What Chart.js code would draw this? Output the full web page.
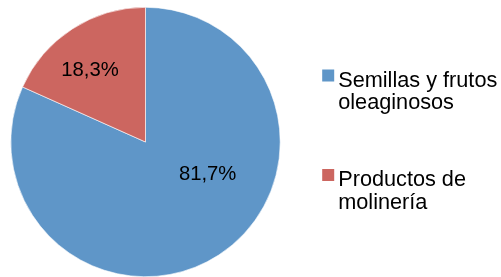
<!DOCTYPE html>
<html>
<head>
<meta charset="utf-8">
<script src="https://cdn.jsdelivr.net/npm/chart.js@4.4.0/dist/chart.umd.min.js"></script>
<style>
  html, body { margin: 0; padding: 0; background: #fff; }
  #wrap { width: 501px; height: 277px; position: relative; }
</style>
</head>
<body>
<div id="wrap"><canvas id="pieChart" width="501" height="277"></canvas></div>
<script>
const categories = [["Semillas y frutos", "oleaginosos"], ["Productos de", "molinería"]];
const shares = [81.7, 18.3];
const valueLabels = ["81,7%", "18,3%"];
const sliceColors = ["#5f96c8", "#cc6660"];

// where each % label sits: angle in degrees (0 = east, clockwise) and fraction of radius
const labelSpots = [
  { angle: 27.5, frac: 0.52 },
  { angle: -128, frac: 0.67 },
];

const FONT = "'Liberation Sans', Arial, sans-serif";

const pieLabels = {
  id: "pieLabels",
  afterDatasetsDraw(chart) {
    const ctx = chart.ctx;
    const arcs = chart.getDatasetMeta(0).data;
    ctx.save();
    ctx.font = "20.3px " + FONT;
    ctx.fillStyle = "#000";
    ctx.textAlign = "center";
    ctx.textBaseline = "middle";
    arcs.forEach((arc, i) => {
      const a = (labelSpots[i].angle * Math.PI) / 180;
      const r = arc.outerRadius * labelSpots[i].frac;
      ctx.fillText(valueLabels[i], arc.x + Math.cos(a) * r, arc.y + Math.sin(a) * r);
    });
    ctx.restore();
  },
};

const sideLegend = {
  id: "sideLegend",
  afterDraw(chart) {
    const ctx = chart.ctx;
    const arc = chart.getDatasetMeta(0).data[0];
    const boxX = arc.x + arc.outerRadius + 42;
    const textX = boxX + 16;
    const startY = 86.5;
    const itemGap = 99.5;
    const lineH = 22.5;
    ctx.save();
    ctx.font = "21.7px " + FONT;
    ctx.textAlign = "left";
    ctx.textBaseline = "alphabetic";
    categories.forEach((lines, i) => {
      const y = startY + i * itemGap;
      ctx.fillStyle = sliceColors[i];
      ctx.fillRect(boxX, y - 17, 12, 12);
      ctx.fillStyle = "#000";
      lines.forEach((t, j) => ctx.fillText(t, textX, y + j * lineH));
    });
    ctx.restore();
  },
};

new Chart(document.getElementById("pieChart"), {
  type: "pie",
  data: {
    labels: categories.map((l) => l.join(" ")),
    datasets: [
      {
        data: shares,
        backgroundColor: sliceColors,
        borderColor: "#ffffff",
        borderWidth: 0.6,
      },
    ],
  },
  options: {
    responsive: false,
    animation: false,
    layout: { padding: { left: 10, top: 7, right: 220, bottom: 0 } },
    plugins: {
      legend: { display: false },
      tooltip: { enabled: false },
    },
  },
  plugins: [pieLabels, sideLegend],
});
</script>
</body>
</html>
